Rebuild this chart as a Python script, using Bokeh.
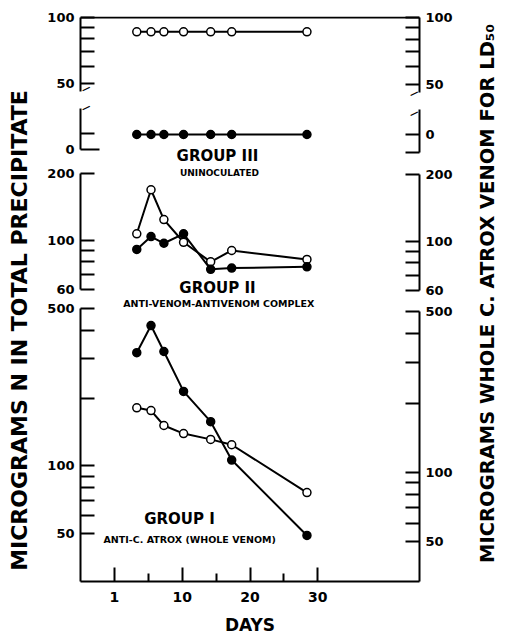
import math
from bokeh.plotting import figure
from bokeh.models import (Range1d, LogScale, LogAxis, LinearAxis, FixedTicker,
                          NumeralTickFormatter, Label, Span)
from bokeh.layouts import row, column
from bokeh.embed import file_html
from bokeh.resources import INLINE

# ---------------- data ----------------
days = [3.3, 5.4, 7.3, 10.2, 14.2, 17.3, 28.4]
g3_open = [86, 86, 86, 86, 86, 86, 86]
g3_filled = [0, 0, 0, 0, 0, 0, 0]
g2_open = [107, 169, 124, 98, 80, 90, 82]
g2_filled = [91, 104, 97, 107, 74, 75, 76]
g1_filled = [318, 420, 322, 214, 157, 106, 49]
g1_open = [181, 176, 151, 139, 131, 124, 76]

x_ticks = [0, 10, 20, 30]
x_minor = [5, 15, 25]
x_labels = {0: "1", 10: "10", 20: "20", 30: "30"}

FONT = "DejaVu Sans"
W_LEFT, W_MAIN, W_RIGHT = 36, 430, 40
MB_L, MB_R = 44, 47
H = 638
xr = Range1d(-5, 45)


def log_range(v_ref, y_ref, ppd, top, bottom):
    return Range1d(start=v_ref * 10 ** (-(bottom - y_ref) / ppd),
                   end=v_ref * 10 ** ((y_ref - top) / ppd))


def log_val(v_ref, y_ref, ppd, y):
    return v_ref * 10 ** (-(y - y_ref) / ppd)


def style_axis(ax, tick_in=14):
    ax.axis_line_width = 2
    ax.axis_line_color = "black"
    ax.major_tick_in = tick_in
    ax.major_tick_out = 0
    ax.minor_tick_in = tick_in
    ax.minor_tick_out = 0
    ax.major_tick_line_width = 2
    ax.minor_tick_line_width = 2
    ax.major_label_text_font = FONT
    ax.major_label_text_font_style = "bold"
    ax.major_label_text_font_size = "13px"
    ax.major_label_text_color = "black"
    ax.major_label_standoff = 6


def make_fig(height, y_range, log=True, top=0, bottom=0):
    p = figure(width=W_MAIN, height=height, x_range=xr, y_range=y_range,
               y_axis_type="log" if log else "linear",
               x_axis_location=None, y_axis_location=None,
               output_backend="svg", toolbar_location=None)
    p.min_border_left = MB_L
    p.min_border_right = MB_R
    p.min_border_top = top
    p.min_border_bottom = bottom
    p.outline_line_color = None
    p.grid.visible = False
    p.background_fill_color = "white"
    p.border_fill_color = "white"
    return p


def series(p, ys, filled, range_name="default"):
    p.line(days, ys, line_color="black", line_width=2, y_range_name=range_name)
    p.scatter(days, ys, size=8, line_color="black", line_width=1.5,
              fill_color="black" if filled else "white", y_range_name=range_name)


def text(p, x, y, s, size, range_name="default", angle=0.0, align="center"):
    p.add_layout(Label(x=x, y=y, text=s, text_font=FONT, text_font_style="bold",
                       text_font_size=size, text_align=align,
                       text_baseline="middle", y_range_name=range_name,
                       angle=angle, text_color="black"))


# ---------------- panel III (upper, log part) ----------------
L3 = (100, 17, 219)
R3 = (100, 17, 222.6)
p3a = make_fig(100, log_range(*L3, 16, 100), top=16)
p3a.extra_y_ranges = {"r": log_range(*R3, 16, 100)}
p3a.extra_y_scales = {"r": LogScale()}
ax = LogAxis(ticker=FixedTicker(ticks=[50, 100], minor_ticks=[60, 70, 80, 90]),
             formatter=NumeralTickFormatter(format="0"),
             bounds=(log_val(*L3, 91), 100))
style_axis(ax)
p3a.add_layout(ax, "left")
ax = LogAxis(y_range_name="r",
             ticker=FixedTicker(ticks=[50, 100], minor_ticks=[60, 70, 80, 90]),
             formatter=NumeralTickFormatter(format="0"),
             bounds=(log_val(*R3, 92), 100))
style_axis(ax)
p3a.add_layout(ax, "right")
p3a.add_layout(Span(location=100, dimension="width", line_color="black", line_width=2))
series(p3a, g3_open, False)
# axis break strokes (inside the frame, next to the axes)
text(p3a, -4.8, log_val(*L3, 90), "—", "9px", angle=0.45, align="left")
text(p3a, 44.8, log_val(*R3, 91), "—", "9px", range_name="r", angle=0.45, align="right")

# ---------------- panel III (lower, zero part) ----------------
p3b = make_fig(63, Range1d(134 - 163, 134 - 100), log=False)
p3b.extra_y_ranges = {"l": Range1d(149 - 163, 149 - 100)}
ax = LinearAxis(y_range_name="l", ticker=FixedTicker(ticks=[0], minor_ticks=[16]),
                bounds=(0, 149 - 108))
style_axis(ax)
ax.major_tick_in = 19
p3b.add_layout(ax, "left")
ax = LinearAxis(ticker=FixedTicker(ticks=[0], minor_ticks=[-18]), bounds=(-18, 134 - 109))
style_axis(ax)
p3b.add_layout(ax, "right")
series(p3b, g3_filled, True)
text(p3b, -4.8, 149 - 109, "—", "9px", range_name="l", angle=0.45, align="left")
text(p3b, 44.8, 134 - 111, "—", "9px", angle=0.45, align="right")
text(p3b, 15.2, 134 - 155, "GROUP III", "15px")

# ---------------- panel II ----------------
L2 = (200, 173, 222)
R2 = (200, 174, 221.8)
p2 = make_fig(135, log_range(*L2, 163, 298))
p2.extra_y_ranges = {"r": log_range(*R2, 163, 298)}
p2.extra_y_scales = {"r": LogScale()}
for name, side in (("default", "left"), ("r", "right")):
    ax = LogAxis(y_range_name=name,
                 ticker=FixedTicker(ticks=[60, 100, 200], minor_ticks=[70, 80, 90]),
                 formatter=NumeralTickFormatter(format="0"), bounds=(60, 200))
    style_axis(ax)
    p2.add_layout(ax, side)
series(p2, g2_open, False)
series(p2, g2_filled, True)
text(p2, 15.5, log_val(*L2, 172), "UNINOCULATED", "9px")
text(p2, 15.2, log_val(*L2, 287), "GROUP II", "15px")

# ---------------- panel I ----------------
L1 = (500, 308, 225)
R1 = (500, 311, 230)
p1 = make_fig(340, log_range(*L1, 298, 581), bottom=57)
p1.extra_y_ranges = {"r": log_range(*R1, 298, 581)}
p1.extra_y_scales = {"r": LogScale()}
for name, side, ref in (("default", "left", L1), ("r", "right", R1)):
    ax = LogAxis(y_range_name=name,
                 ticker=FixedTicker(ticks=[50, 100, 500],
                                    minor_ticks=[60, 70, 80, 90, 200, 300, 400]),
                 formatter=NumeralTickFormatter(format="0"),
                 bounds=(log_val(*ref, 581), 500))
    style_axis(ax)
    p1.add_layout(ax, side)
xax = LinearAxis(ticker=FixedTicker(ticks=x_ticks, minor_ticks=x_minor),
                 major_label_overrides=x_labels)
style_axis(xax)
xax.minor_tick_in = 8
xax.major_label_text_font_size = "14px"
xax.major_label_standoff = 10
xax.axis_label = "DAYS"
xax.axis_label_text_font = FONT
xax.axis_label_text_font_style = "bold"
xax.axis_label_text_font_size = "17px"
xax.axis_label_text_color = "black"
xax.axis_label_standoff = 10
p1.add_layout(xax, "below")
series(p1, g1_open, False)
series(p1, g1_filled, True)
text(p1, 15.4, log_val(*L1, 303), "ANTI-VENOM-ANTIVENOM COMPLEX", "9.5px")
text(p1, 9.6, log_val(*L1, 518), "GROUP I", "15px")
text(p1, 11.1, log_val(*L1, 539), "ANTI-C. ATROX (WHOLE VENOM)", "9.5px")


# ---------------- side titles ----------------
def title_fig(w, x, y_center, s, size):
    f = figure(width=w, height=H, x_range=Range1d(0, w), y_range=Range1d(0, H),
               x_axis_location=None, y_axis_location=None,
               output_backend="svg", toolbar_location=None)
    f.min_border_left = f.min_border_right = f.min_border_top = f.min_border_bottom = 0
    f.outline_line_color = None
    f.grid.visible = False
    f.add_layout(Label(x=x, y=H - y_center, text=s, text_font=FONT,
                       text_font_style="bold", text_font_size=size,
                       text_align="center", text_baseline="middle",
                       angle=math.pi / 2, text_color="black"))
    return f


left_t = title_fig(W_LEFT, 19, 330, "MICROGRAMS N IN TOTAL PRECIPITATE", "22px")
right_t = title_fig(W_RIGHT, 21, 293, "MICROGRAMS WHOLE C. ATROX VENOM FOR LD₅₀", "19.5px")

layout = row(left_t, column(p3a, p3b, p2, p1, spacing=0), right_t, spacing=0)
open("out.html", "w").write(file_html(layout, INLINE))
